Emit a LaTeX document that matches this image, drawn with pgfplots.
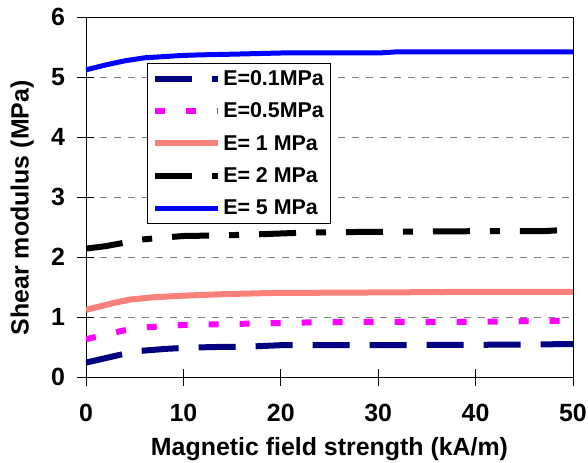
\documentclass[border=0pt]{standalone}
\usepackage{pgfplots}
\pgfplotsset{compat=1.18}
\usepackage{fontspec}
\setmainfont{Liberation Sans}
\definecolor{navyc}{RGB}{0,0,128}
\definecolor{magc}{RGB}{255,0,255}
\definecolor{salm}{RGB}{250,128,122}
\definecolor{bluec}{RGB}{0,0,255}
\begin{document}
\begin{tikzpicture}
\begin{axis}[
  at={(0,0)}, anchor=south west,
  scale only axis, width=487bp, height=360bp,
  xmin=0, xmax=50, ymin=0, ymax=6,
  xtick={0,10,20,30,40,50}, ytick={0,1,2,3,4,5,6},
  xtick pos=bottom, ytick pos=left,
  tick align=center, major tick length=17bp,
  tick style={black, line width=0.8pt},
  axis line style={black, line width=0.9pt},
  ymajorgrids, grid style={gray, line width=0.9pt, dash pattern=on 7bp off 7bp},
  /pgf/number format/assume math mode=true,
  ticklabel style={font=\fontsize{25}{28}\selectfont\bfseries},
  yticklabel style={xshift=-9bp},
  xticklabel style={yshift=-15bp},
  label style={font=\fontsize{25}{28}\selectfont\bfseries},
  xlabel={Magnetic field strength (kA/m)},
  ylabel={Shear modulus (MPa)},
  xlabel style={at={(axis description cs:0.5,-0.2167)}, anchor=base},
  ylabel style={at={(axis description cs:-0.131,0.47)}, anchor=center},
  legend style={at={(axis description cs:0.125,0.872)}, anchor=north west,
    draw=black, line width=0.8pt, fill=white,
    font=\fontsize{21.5}{24}\selectfont\bfseries,
    inner xsep=5bp, inner ysep=5bp, row sep=12bp},
  legend cell align=left,
  legend image code/.code={\draw[#1] (0bp,0bp) -- (63bp,0bp);},
]
\addplot[navyc, line width=6bp, dash pattern=on 37bp off 20bp] coordinates {
(0,0.24) (3.5,0.37) (5.2,0.43) (8.3,0.47) (10.7,0.49) (13.4,0.50) (16.5,0.505) (20,0.53) (30,0.53) (45,0.54) (50,0.55)};
\addlegendentry{E=0.1MPa}
\addplot[magc, line width=6bp, dash pattern=on 10bp off 21bp] coordinates {
(0,0.63) (3.7,0.77) (5.5,0.82) (8.6,0.855) (10.4,0.87) (14,0.88) (17,0.89) (23,0.91) (30,0.92) (40,0.92) (50,0.94)};
\addlegendentry{E=0.5MPa}
\addplot[salm, line width=6bp] coordinates {
(0,1.12) (2,1.2) (3,1.24) (4.5,1.29) (7,1.33) (10,1.355) (14,1.38) (19,1.40) (25,1.405) (31,1.41) (40,1.42) (50,1.42)};
\addlegendentry{E= 1 MPa}
\addplot[black, line width=6bp, dash pattern=on 37bp off 20bp on 10bp off 20bp] coordinates {
(0,2.14) (2,2.18) (4,2.24) (5,2.28) (7,2.31) (10,2.35) (14,2.36) (18,2.38) (23,2.41) (30,2.42) (40,2.43) (47,2.43) (50,2.46)};
\addlegendentry{E= 2 MPa}
\addplot[bluec, line width=5bp] coordinates {
(0,5.12) (2,5.2) (4,5.27) (6,5.32) (8,5.34) (10,5.36) (12,5.37) (15,5.38) (20,5.40) (25,5.40) (30,5.40) (32,5.42) (40,5.42) (50,5.42)};
\addlegendentry{E= 5 MPa}
\end{axis}
\pgfresetboundingbox
\path (-86bp,-86bp) rectangle (502bp,377bp);
\end{tikzpicture}
\end{document}
